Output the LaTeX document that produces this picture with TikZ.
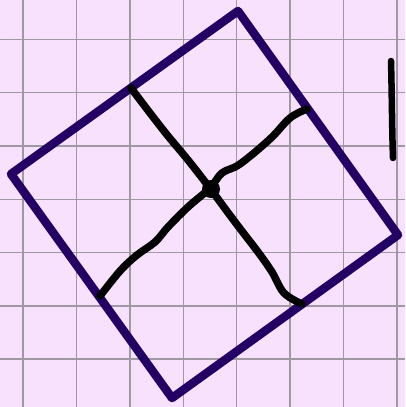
\documentclass[tikz,border=0pt]{standalone}
\begin{document}
\begin{tikzpicture}[x=1pt,y=-1pt,
  gridline/.style={draw=gridgray,line width=1.4pt},
  frame/.style={draw=indigo,line width=8.5pt,line join=round,line cap=round},
  ink/.style={draw=black,line width=7.5pt,line cap=round,line join=round}]
\definecolor{bgpink}{RGB}{247,225,252}
\definecolor{gridgray}{RGB}{160,152,162}
\definecolor{indigo}{RGB}{34,0,100}
\fill[bgpink] (0,0) rectangle (405,407);
\useasboundingbox (0,0) rectangle (405,407);
\foreach \i in {0,...,7} {
  \draw[gridline] ({23+53.4*\i},0) -- ({23+53.4*\i},407);
}
\foreach \j in {0,...,6} {
  \draw[gridline] (0,{39.3+53.3*\j}) -- (405,{39.3+53.3*\j});
}
\coordinate (T) at (238,11);
\coordinate (L) at (11,174);
\coordinate (B) at (172,398);
\coordinate (R) at (398,235);
\draw[frame] (T) -- (R) -- (B) -- (L) -- cycle;
\draw[ink] plot[smooth,tension=0.6] coordinates {(131,88) (150,113) (168,136) (188,160) (209,187) (235,222) (258,252) (272,272) (284,293) (302,304)};
\draw[ink] plot[smooth,tension=0.6] coordinates {(100,296) (120,271) (137,255) (155,242) (168,227) (188,207) (210,188) (222,173) (240,164) (270,139) (290,118) (307,109)};
\fill[black] (211,189) circle (9);
\draw[ink,line width=6.5pt] (391,61) .. controls (392,100) and (392,130) .. (393,158);
\end{tikzpicture}
\end{document}
